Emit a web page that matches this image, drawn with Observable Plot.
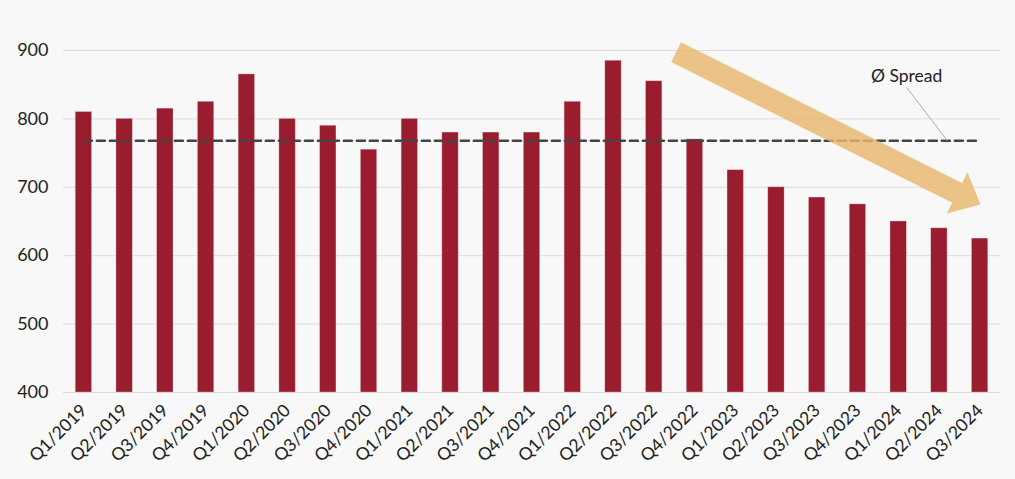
<!DOCTYPE html>
<html>
<head>
<meta charset="utf-8">
<script src="https://cdn.jsdelivr.net/npm/d3@7"></script>
<script src="https://cdn.jsdelivr.net/npm/@observablehq/plot@0.6"></script>
<style>
  html, body { margin: 0; padding: 0; background: #f8f8f8; }
  #chart svg { display: block; }
</style>
</head>
<body>
<div id="chart"></div>
<script>
const quarters = ["Q1/2019","Q2/2019","Q3/2019","Q4/2019","Q1/2020","Q2/2020","Q3/2020","Q4/2020",
  "Q1/2021","Q2/2021","Q3/2021","Q4/2021","Q1/2022","Q2/2022","Q3/2022","Q4/2022",
  "Q1/2023","Q2/2023","Q3/2023","Q4/2023","Q1/2024","Q2/2024","Q3/2024"];
const spreads = [810,800,815,825,865,800,790,755,800,780,780,780,825,885,855,770,725,700,685,675,650,640,625];
const averageSpread = 768;
const yTicks = [400,500,600,700,800,900];
const annotationLabel = "Ø Spread";
const annotationAt = {q: "Q1/2024", value: 862};
const leaderFrom = {q: "Q1/2024", value: 846};
const leaderTo = {q: "Q2/2024", value: 768};
const trendFrom = {q: "Q3/2022", offset: 0.55, value: 897};
const trendTo = {q: "Q3/2024", offset: 0.02, value: 674};

const data = quarters.map((q, i) => ({q, v: spreads[i]}));
const font = "Lato, 'Open Sans', sans-serif";

function trendArrow(index, scales, values, dims) {
  const sx = scales.x, sy = scales.y;
  const bw = typeof sx.bandwidth === "function" ? sx.bandwidth() : (sx.bandwidth || 0);
  const step = sx(quarters[1]) - sx(quarters[0]);
  const px = p => sx(p.q) + bw / 2 + p.offset * step;
  const x0 = px(trendFrom), y0 = sy(trendFrom.value);
  const x1 = px(trendTo), y1 = sy(trendTo.value);
  const dx = x1 - x0, dy = y1 - y0, len = Math.hypot(dx, dy);
  const ux = dx / len, uy = dy / len, nx = -uy, ny = ux;
  const shaftW = 22, headW = 46, headL = 26;
  const bx = x1 - ux * headL, by = y1 - uy * headL;
  const pts = [
    [x0 + nx * shaftW / 2, y0 + ny * shaftW / 2],
    [bx + nx * shaftW / 2, by + ny * shaftW / 2],
    [bx + nx * headW / 2, by + ny * headW / 2],
    [x1, y1],
    [bx - nx * headW / 2, by - ny * headW / 2],
    [bx - nx * shaftW / 2, by - ny * shaftW / 2],
    [x0 - nx * shaftW / 2, y0 - ny * shaftW / 2]
  ];
  const g = document.createElementNS("http://www.w3.org/2000/svg", "g");
  const poly = document.createElementNS("http://www.w3.org/2000/svg", "polygon");
  poly.setAttribute("points", pts.map(p => p.join(",")).join(" "));
  poly.setAttribute("fill", "#E9B76C");
  poly.setAttribute("fill-opacity", "0.82");
  g.appendChild(poly);
  return g;
}

const chart = Plot.plot({
  width: 1015,
  height: 479,
  marginLeft: 63,
  marginRight: 15,
  marginTop: 50,
  marginBottom: 87,
  style: {background: "#f8f8f8", fontFamily: font, fontSize: "18px", color: "#222", overflow: "visible"},
  x: {domain: quarters, paddingInner: 0.6, paddingOuter: 0.3, round: false, label: null},
  y: {domain: [400, 900], label: null},
  marks: [
    Plot.gridY(yTicks, {stroke: "#dcdcdc", strokeOpacity: 1, strokeWidth: 1}),
    Plot.axisY(yTicks, {tickSize: 0, tickPadding: 15, fontSize: 18, label: null}),
    Plot.axisX({tickSize: 0, tickRotate: -45, tickPadding: 15, fontSize: 17.5, label: null}),
    Plot.barY(data, {x: "q", y1: 400, y2: "v", fill: "#9A1D2F", stroke: "#e8c8cc", strokeWidth: 0.6, strokeOpacity: 0.6}),
    Plot.lineY([{q: quarters[0], v: averageSpread}, {q: quarters[quarters.length - 1], v: averageSpread}],
      {x: "q", y: "v", stroke: "#444", strokeWidth: 2.6, strokeDasharray: "8,5"}),
    Plot.link([0], {x1: () => leaderFrom.q, y1: () => leaderFrom.value, x2: () => leaderTo.q, y2: () => leaderTo.value,
      stroke: "#aaa", strokeWidth: 1, dx: 8}),
    Plot.text([annotationLabel], {x: () => annotationAt.q, y: () => annotationAt.value, text: d => d,
      fontSize: 17.5, fill: "#222", dx: 8}),
    trendArrow
  ]
});
document.getElementById("chart").appendChild(chart);
</script>
</body>
</html>
